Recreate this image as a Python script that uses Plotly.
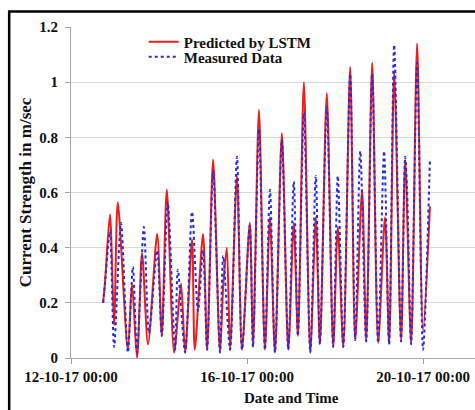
import plotly.graph_objects as go

# Predicted current strength (LSTM) at each turning point of the tidal record
pred_time = [
    "2017-10-12 17:30", "2017-10-12 18:30", "2017-10-12 21:15", "2017-10-12 23:30",
    "2017-10-13 01:30", "2017-10-13 07:00", "2017-10-13 09:15", "2017-10-13 12:00",
    "2017-10-13 14:45", "2017-10-13 18:00", "2017-10-13 23:00", "2017-10-14 01:30",
    "2017-10-14 04:15", "2017-10-14 08:15", "2017-10-14 12:00", "2017-10-14 14:15",
    "2017-10-14 18:00", "2017-10-14 19:30", "2017-10-15 00:00", "2017-10-15 02:15",
    "2017-10-15 05:30", "2017-10-15 09:15", "2017-10-15 11:00", "2017-10-15 13:00",
    "2017-10-15 14:45", "2017-10-15 18:30", "2017-10-15 21:15", "2017-10-16 01:30",
    "2017-10-16 03:15", "2017-10-16 06:30", "2017-10-16 09:45", "2017-10-16 12:30",
    "2017-10-16 15:15", "2017-10-16 19:00", "2017-10-16 22:30", "2017-10-17 01:30",
    "2017-10-17 03:45", "2017-10-17 07:00", "2017-10-17 10:30", "2017-10-17 13:30",
    "2017-10-17 15:45", "2017-10-17 19:30", "2017-10-17 23:00", "2017-10-18 01:30",
    "2017-10-18 04:30", "2017-10-18 08:15", "2017-10-18 11:00", "2017-10-18 14:45",
    "2017-10-18 17:00", "2017-10-18 20:15", "2017-10-18 23:30", "2017-10-19 03:15",
    "2017-10-19 05:30", "2017-10-19 08:15", "2017-10-19 12:00", "2017-10-19 14:15",
    "2017-10-19 17:30", "2017-10-19 20:45", "2017-10-20 00:00", "2017-10-20 03:45",
]
pred_speed = [
    0.20, 0.27, 0.52, 0.12,
    0.565, 0.03, 0.27, 0.00,
    0.38, 0.05, 0.45, 0.08,
    0.61, 0.02, 0.27, 0.02,
    0.43, 0.03, 0.45, 0.03,
    0.72, 0.02, 0.26, 0.40,
    0.03, 0.66, 0.03, 0.49,
    0.04, 0.90, 0.03, 0.51,
    0.02, 0.815, 0.03, 0.49,
    0.08, 1.00, 0.02, 0.51,
    0.05, 0.96, 0.04, 0.475,
    0.04, 1.055, 0.065, 0.61,
    0.06, 1.07, 0.055, 0.51,
    0.05, 1.04, 0.06, 0.72,
    0.05, 1.14, 0.10, 0.55,
]

# Measured current strength at each turning point
meas_time = [
    "2017-10-12 17:30", "2017-10-12 18:30", "2017-10-12 21:15", "2017-10-12 23:30",
    "2017-10-13 03:15", "2017-10-13 07:00", "2017-10-13 09:45", "2017-10-13 12:00",
    "2017-10-13 15:45", "2017-10-13 18:30", "2017-10-13 23:00", "2017-10-14 01:30",
    "2017-10-14 04:45", "2017-10-14 08:45", "2017-10-14 10:15", "2017-10-14 14:15",
    "2017-10-14 18:00", "2017-10-14 21:15", "2017-10-15 00:00", "2017-10-15 02:15",
    "2017-10-15 05:30", "2017-10-15 09:15", "2017-10-15 11:00", "2017-10-15 14:45",
    "2017-10-15 18:30", "2017-10-15 21:15", "2017-10-16 01:30", "2017-10-16 03:15",
    "2017-10-16 06:30", "2017-10-16 09:45", "2017-10-16 12:30", "2017-10-16 15:15",
    "2017-10-16 19:00", "2017-10-16 22:30", "2017-10-17 01:30", "2017-10-17 03:45",
    "2017-10-17 07:00", "2017-10-17 10:30", "2017-10-17 13:30", "2017-10-17 15:45",
    "2017-10-17 19:30", "2017-10-17 23:00", "2017-10-18 01:30", "2017-10-18 04:30",
    "2017-10-18 08:15", "2017-10-18 11:00", "2017-10-18 13:45", "2017-10-18 17:00",
    "2017-10-18 20:15", "2017-10-18 23:30", "2017-10-19 02:45", "2017-10-19 05:30",
    "2017-10-19 08:15", "2017-10-19 12:00", "2017-10-19 14:15", "2017-10-19 15:15",
    "2017-10-19 17:30", "2017-10-19 20:45", "2017-10-20 00:00", "2017-10-20 03:45",
]
meas_speed = [
    0.20, 0.27, 0.46, 0.04,
    0.49, 0.02, 0.33, 0.02,
    0.475, 0.09, 0.39, 0.08,
    0.565, 0.03, 0.32, 0.02,
    0.53, 0.17, 0.39, 0.03,
    0.68, 0.02, 0.37, 0.03,
    0.73, 0.03, 0.48, 0.04,
    0.83, 0.03, 0.61, 0.02,
    0.79, 0.03, 0.64, 0.08,
    0.89, 0.02, 0.66, 0.05,
    0.91, 0.04, 0.66, 0.04,
    1.03, 0.065, 0.75, 0.06,
    1.03, 0.055, 0.75, 0.05,
    1.135, 0.06, 0.73, 0.62,
    0.05, 1.07, 0.03, 0.72,
]

x_ticks = ["2017-10-12 00:00", "2017-10-16 00:00", "2017-10-20 00:00"]
y_ticks = [0, 0.2, 0.4, 0.6, 0.8, 1.0, 1.2]

SERIF = "Liberation Serif"
LEGEND_FONT = dict(size=15, family=SERIF, weight="bold", color="#111111")

fig = go.Figure()
fig.add_trace(go.Scatter(
    x=pred_time, y=pred_speed, name="Predicted by LSTM", mode="lines",
    line=dict(color="#f01c1c", width=2, shape="spline", smoothing=0.8),
    legend="legend", showlegend=True,
))
fig.add_trace(go.Scatter(
    x=meas_time, y=meas_speed, name="Measured Data", mode="lines",
    line=dict(color="#2a2ad8", width=2, dash="dot", shape="spline", smoothing=0.8),
    legend="legend2", showlegend=True,
))

# Two single-entry legends stacked tightly so the rows sit close together
legend_common = dict(x=0.18, xanchor="left", yanchor="middle", visible=True,
                     bgcolor="rgba(0,0,0,0)", font=LEGEND_FONT, itemwidth=30)

fig.update_layout(
    width=475, height=410, autosize=False,
    showlegend=True,
    margin=dict(l=71, r=0, t=27, b=52),
    paper_bgcolor="white", plot_bgcolor="white",
    font=dict(family=SERIF, color="#111111", weight="bold"),
    legend=dict(y=0.955, **legend_common),
    legend2=dict(y=0.909, **legend_common),
    xaxis=dict(
        type="date", range=["2017-10-12 00:00", "2017-10-21 04:20"],
        tickvals=x_ticks, tickformat="%d-%m-%y %H:%M",
        tickfont=dict(size=15, family=SERIF, weight="bold"),
        showgrid=False, showline=True, linecolor="#a6a6a6", linewidth=1,
        ticks="outside", ticklen=5, tickcolor="#a6a6a6", zeroline=False,
    ),
    yaxis=dict(
        range=[0, 1.2], tickvals=y_ticks,
        tickfont=dict(size=15, family=SERIF, weight="bold"),
        ticklabelstandoff=4,
        showgrid=True, gridcolor="#d9d9d9", gridwidth=1,
        showline=True, linecolor="#a6a6a6", linewidth=1,
        ticks="outside", ticklen=5, tickcolor="#a6a6a6", zeroline=False,
        title=dict(text="Current Strength in m/sec", standoff=3,
                   font=dict(size=17, family=SERIF, weight="bold")),
    ),
    annotations=[dict(
        text="Date and Time", xref="paper", yref="paper",
        x=0.545, y=-0.12, xanchor="center", yanchor="middle", showarrow=False,
        font=dict(size=15, family=SERIF, weight="bold"),
    )],
    shapes=[dict(
        type="rect", xref="paper", yref="paper",
        x0=-0.153, x1=1.2, y0=-0.3, y1=1.047,
        line=dict(color="black", width=2.5), fillcolor="rgba(0,0,0,0)",
        layer="above",
    )],
)

fig.write_html("out.html")
